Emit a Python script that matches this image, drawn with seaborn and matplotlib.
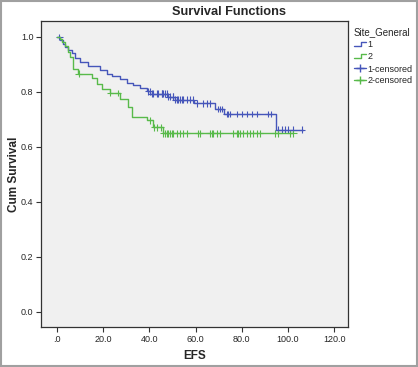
import numpy as np
import pandas as pd
import matplotlib
matplotlib.use("Agg")
import matplotlib.pyplot as plt
import seaborn as sns
from matplotlib.lines import Line2D
from matplotlib.legend_handler import HandlerBase
from matplotlib.patches import Rectangle

# Kaplan-Meier step data (time, cumulative survival)
g1_times = [0, 1.5, 2.5, 3.5, 5.0, 6.5, 8.0, 10.0, 13.4, 18.6, 21.6, 24.0, 27.3,
            30.3, 33.0, 35.9, 39.0, 40.5, 48.0, 51.0, 59.5, 68.5, 72.5, 95.0, 106.5]
g1_surv = [1.0, 0.988, 0.976, 0.964, 0.952, 0.940, 0.925, 0.908, 0.893, 0.878, 0.866,
           0.857, 0.847, 0.834, 0.826, 0.815, 0.803, 0.793, 0.782, 0.772, 0.758,
           0.738, 0.720, 0.663, 0.663]
g2_times = [0, 1.3, 2.4, 3.5, 4.6, 5.6, 7.1, 9.2, 15.0, 17.2, 19.4, 22.9, 27.3,
            30.7, 32.3, 38.8, 41.6, 45.9, 102.3]
g2_surv = [1.0, 0.994, 0.981, 0.968, 0.947, 0.926, 0.884, 0.866, 0.851, 0.830, 0.812,
           0.796, 0.775, 0.745, 0.709, 0.697, 0.672, 0.649, 0.649]

g1_censored = [1.0, 39.5, 40.3, 41.0, 41.6, 43.1, 43.7, 45.3, 45.5, 46.0, 46.8, 47.6,
               48.2, 48.9, 50.2, 50.4, 51.1, 51.8, 52.4, 53.2, 54.0, 54.7, 56.1, 57.6,
               59.0, 60.5, 63.3, 64.8, 66.2, 69.8, 70.6, 71.3, 73.5, 74.2, 74.9, 77.8,
               80.0, 82.1, 84.3, 86.4, 91.5, 92.5, 95.8, 97.3, 98.7, 100.1, 102.3, 105.9]
g2_censored = [9.5, 23.0, 26.4, 40.3, 42.0, 43.5, 45.0, 46.0, 46.8, 47.5, 48.2, 48.9,
               49.7, 50.4, 51.8, 53.2, 54.7, 56.1, 61.2, 61.9, 66.2, 67.0, 67.7, 69.1,
               70.6, 76.3, 77.8, 78.5, 79.2, 80.6, 82.1, 83.5, 85.0, 86.4, 87.9, 94.4,
               95.8, 100.9, 102.3]

groups = ["1", "2"]
colors = {"1": "#4656BA", "2": "#58BA4A"}
x_ticks = [0, 20, 40, 60, 80, 100, 120]
x_labels = [".0", "20.0", "40.0", "60.0", "80.0", "100.0", "120.0"]
y_ticks = [0.0, 0.2, 0.4, 0.6, 0.8, 1.0]


def surv_at(times, surv, t):
    idx = np.searchsorted(times, t, side="right") - 1
    return np.asarray(surv)[idx]


class StepHandler(HandlerBase):
    """Draws the little step glyph SPSS uses for survival lines."""
    def create_artists(self, legend, orig_handle, xdescent, ydescent,
                       width, height, fontsize, trans):
        x0 = -xdescent
        y0 = -ydescent
        xs = [x0, x0 + width * 0.55, x0 + width * 0.55, x0 + width]
        ys = [y0 + height * 0.15, y0 + height * 0.15, y0 + height * 0.85, y0 + height * 0.85]
        line = Line2D(xs, ys, color=orig_handle.get_color(), lw=orig_handle.get_linewidth())
        line.set_transform(trans)
        return [line]


curves = pd.concat([
    pd.DataFrame({"time": g1_times, "surv": g1_surv, "group": "1"}),
    pd.DataFrame({"time": g2_times, "surv": g2_surv, "group": "2"}),
])
cens = pd.concat([
    pd.DataFrame({"time": g1_censored, "surv": surv_at(g1_times, g1_surv, g1_censored), "group": "1"}),
    pd.DataFrame({"time": g2_censored, "surv": surv_at(g2_times, g2_surv, g2_censored), "group": "2"}),
])

sns.set_theme(style="white")
plt.rcParams["font.family"] = ["Liberation Sans", "DejaVu Sans"]

fig = plt.figure(figsize=(4.18, 3.67), dpi=100)
ax = fig.add_axes([41 / 418, 40 / 367, 307 / 418, 306 / 367])
ax.set_facecolor("#F0F0F0")

sns.lineplot(data=curves, x="time", y="surv", hue="group", palette=colors,
             drawstyle="steps-post", estimator=None, lw=1.0, legend=False, ax=ax)
sns.scatterplot(data=cens, x="time", y="surv", hue="group", palette=colors,
                marker="+", s=24, linewidth=0.8, legend=False, ax=ax)

ax.set_xlim(-6.9, 126)
ax.set_ylim(-0.055, 1.058)
ax.set_xticks(x_ticks)
ax.set_xticklabels(x_labels)
ax.set_yticks(y_ticks)
ax.set_yticklabels([f"{v:.1f}" for v in y_ticks])
ax.tick_params(axis="both", labelsize=6.5, length=3.5, width=0.8, color="#333333",
               direction="out", bottom=True, left=True, pad=2)
for sp in ax.spines.values():
    sp.set_color("#333333")
    sp.set_linewidth(0.9)

ax.set_xlabel("EFS", fontsize=8.5, fontweight="bold")
ax.set_ylabel("Cum Survival", fontsize=8.5, fontweight="bold")
ax.xaxis.set_label_coords(0.5, -0.075)
ax.yaxis.set_label_coords(-0.07, 0.5)
fig.text(229 / 418, 1 - 12 / 367, "Survival Functions", ha="center", va="center",
         fontsize=9.2, fontweight="bold")

handles = [
    Line2D([], [], color=colors["1"], lw=1.0),
    Line2D([], [], color=colors["2"], lw=1.0),
    Line2D([], [], color=colors["1"], marker="+", ls="-", lw=1.0, markersize=6),
    Line2D([], [], color=colors["2"], marker="+", ls="-", lw=1.0, markersize=6),
]
labels = ["1", "2", "1-censored", "2-censored"]
fig.legend(handles[:2], labels[:2], loc="upper left",
           bbox_to_anchor=(350 / 418, 1 - 24 / 367), frameon=False,
           title="Site_General", title_fontsize=7, fontsize=6.5,
           handlelength=1.4, handletextpad=0.15, labelspacing=0.3,
           alignment="left", borderaxespad=0,
           handler_map={Line2D: StepHandler()})
fig.legend(handles[2:], labels[2:], loc="upper left",
           bbox_to_anchor=(350 / 418, 1 - 61 / 367), frameon=False, fontsize=6.5,
           handlelength=1.4, handletextpad=0.15, labelspacing=0.25, borderaxespad=0)

fig.patches.append(Rectangle((0.002, 0.003), 0.995, 0.994, transform=fig.transFigure,
                             fill=False, edgecolor="#A0A0A0", lw=1.5))

fig.savefig("out.png", dpi=100)
plt.close(fig)
